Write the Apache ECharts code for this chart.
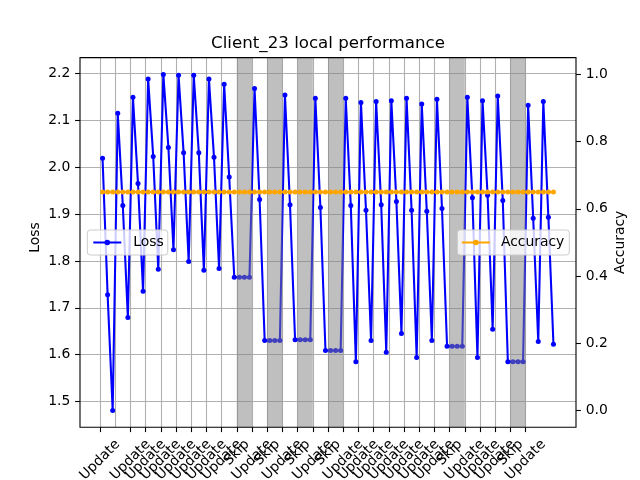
<!DOCTYPE html>
<html>
<head>
<meta charset="utf-8">
<title>Client_23 local performance</title>
<script src="https://cdn.jsdelivr.net/npm/echarts@6/dist/echarts.min.js"></script>
<style>
  html, body { margin: 0; padding: 0; background: #fff; }
  #chart { width: 640px; height: 480px; }
</style>
</head>
<body>
<div id="chart"></div>
<script>
// 每轮的状态（刻度 0..28，最后一轮没有刻度）
const tickLabels = [
  'Update', 'Update', 'Update', 'Update', 'Update', 'Update', 'Update', 'Update', 'Update',
  'Skip', 'Update', 'Skip', 'Update', 'Skip', 'Update', 'Skip',
  'Update', 'Update', 'Update', 'Update', 'Update', 'Update', 'Update',
  'Skip', 'Update', 'Update', 'Update', 'Skip', 'Update'
];
// 每轮 3 个点
const pointsPerRound = 3;
const lossValues = [
  2.019, 1.728, 1.481,  2.115, 1.918, 1.679,  2.149, 1.965, 1.735,
  2.188, 2.023, 1.782,  2.198, 2.042, 1.824,  2.196, 2.031, 1.799,
  2.196, 2.031, 1.780,  2.188, 2.021, 1.784,  2.177, 1.979, 1.765,
  1.765, 1.765, 1.765,  2.168, 1.931, 1.630,  1.630, 1.630, 1.630,
  2.154, 1.920, 1.632,  1.632, 1.632, 1.632,  2.147, 1.914, 1.609,
  1.609, 1.609, 1.609,  2.147, 1.918, 1.585,  2.138, 1.908, 1.630,
  2.140, 1.920, 1.605,  2.142, 1.927, 1.645,  2.147, 1.908, 1.594,
  2.135, 1.906, 1.630,  2.145, 1.912, 1.618,  1.618, 1.618, 1.618,
  2.149, 1.935, 1.594,  2.142, 1.940, 1.654,  2.152, 1.929, 1.585,
  1.585, 1.585, 1.585,  2.132, 1.891, 1.628,  2.140, 1.893, 1.622
];
const accuracyValues = [
  0.65, 0.65, 0.65,  0.65, 0.65, 0.65,  0.65, 0.65, 0.65,
  0.65, 0.65, 0.65,  0.65, 0.65, 0.65,  0.65, 0.65, 0.65,
  0.65, 0.65, 0.65,  0.65, 0.65, 0.65,  0.65, 0.65, 0.65,
  0.65, 0.65, 0.65,  0.65, 0.65, 0.65,  0.65, 0.65, 0.65,
  0.65, 0.65, 0.65,  0.65, 0.65, 0.65,  0.65, 0.65, 0.65,
  0.65, 0.65, 0.65,  0.65, 0.65, 0.65,  0.65, 0.65, 0.65,
  0.65, 0.65, 0.65,  0.65, 0.65, 0.65,  0.65, 0.65, 0.65,
  0.65, 0.65, 0.65,  0.65, 0.65, 0.65,  0.65, 0.65, 0.65,
  0.65, 0.65, 0.65,  0.65, 0.65, 0.65,  0.65, 0.65, 0.65,
  0.65, 0.65, 0.65,  0.65, 0.65, 0.65,  0.65, 0.65, 0.65
];
const lossTicks = [1.5, 1.6, 1.7, 1.8, 1.9, 2.0, 2.1, 2.2];
const accTicks = [0.0, 0.2, 0.4, 0.6, 0.8, 1.0];
const accRange = [-0.05, 1.05];

const FONT = 'DejaVu Sans';
const FS = 13.9;
const W = 640, H = 480;
// 绘图区（像素）
const PL = 80, PR = 576, PT = 57.6, PB = 427.2;

// 点的横坐标：轮次 + 轮内位置
const xs = lossValues.map((v, i) => Math.floor(i / pointsPerRound) + ((i % pointsPerRound) + 0.5) / pointsPerRound);
const lossData = lossValues.map((v, i) => [xs[i], v]);
const accData = accuracyValues.map((v, i) => [xs[i], v]);

// 5% 边距，和 matplotlib 一样
function padRange(lo, hi) {
  const m = (hi - lo) * 0.05;
  return [lo - m, hi + m];
}
const [xMin, xMax] = padRange(Math.min(...xs), Math.max(...xs));
const [lossMin, lossMax] = padRange(Math.min(...lossValues), Math.max(...lossValues));

function xPx(v) { return PL + (v - xMin) / (xMax - xMin) * (PR - PL); }
function yLossPx(v) { return PT + (lossMax - v) / (lossMax - lossMin) * (PB - PT); }
function yAccPx(v) { return PT + (accRange[1] - v) / (accRange[1] - accRange[0]) * (PB - PT); }

// Skip 轮的灰色区域
let bands = [];
tickLabels.forEach((s, r) => {
  if (s === 'Skip') bands.push([{ xAxis: r }, { xAxis: r + 1 }]);
});

const lastTick = tickLabels.length - 1;
const lossStep = Math.round((lossTicks[1] - lossTicks[0]) * 1e6) / 1e6;
const accStep = Math.round((accTicks[1] - accTicks[0]) * 1e6) / 1e6;

const tickStyle = { show: true, inside: false, length: 4.9, lineStyle: { color: '#000', width: 1.1 } };
const noLine = { show: false, onZero: false };
const labelBase = { color: '#000', fontFamily: FONT, fontSize: FS, hideOverlap: false, showMinLabel: true, showMaxLabel: true };
const gridBase = { containLabel: false, outerBoundsMode: 'none' };

const chart = echarts.init(document.getElementById('chart'), null, { renderer: 'canvas', width: W, height: H });

const option = {
  animation: false,
  backgroundColor: '#fff',
  title: {
    text: 'Client_23 local performance',
    left: (PL + PR) / 2,
    top: 35,
    textAlign: 'center',
    padding: 0,
    textStyle: { fontFamily: FONT, fontSize: 16.67, fontWeight: 'normal', color: '#000' }
  },
  legend: [
    {
      data: ['Loss'],
      left: 87.3,
      top: 230,
      padding: [5.5, 4, 5.5, 5],
      itemWidth: 28,
      itemHeight: 7,
      backgroundColor: 'rgba(255,255,255,0.8)',
      borderColor: '#cccccc',
      borderWidth: 1,
      borderRadius: 3,
      selectedMode: false,
      textStyle: { fontFamily: FONT, fontSize: FS, color: '#000', padding: [0, 0, 0, 7] }
    },
    {
      data: ['Accuracy'],
      right: W - 569.3,
      top: 230,
      padding: [5.5, 5, 5.5, 3.5],
      itemWidth: 28,
      itemHeight: 7,
      backgroundColor: 'rgba(255,255,255,0.8)',
      borderColor: '#cccccc',
      borderWidth: 1,
      borderRadius: 3,
      selectedMode: false,
      textStyle: { fontFamily: FONT, fontSize: FS, color: '#000', padding: [0, 0, 0, 6] }
    }
  ],
  grid: [
    // 0: 数据 + 边框
    Object.assign({ left: PL, top: PT, width: PR - PL, height: PB - PT, show: true, borderColor: '#000', borderWidth: 1.1, backgroundColor: 'transparent', z: 10 }, gridBase),
    // 1: 竖网格线和横轴标签
    Object.assign({ left: xPx(0), right: W - xPx(lastTick), top: PT, bottom: H - PB }, gridBase),
    // 2: 横网格线和 Loss 轴
    Object.assign({ left: PL, right: W - PR, top: yLossPx(lossTicks[lossTicks.length - 1]), bottom: H - yLossPx(lossTicks[0]) }, gridBase),
    // 3: Accuracy
    Object.assign({ left: PL, right: W - PR, top: yAccPx(accTicks[accTicks.length - 1]), bottom: H - yAccPx(accTicks[0]) }, gridBase)
  ],
  xAxis: [
    { type: 'value', gridIndex: 0, min: xMin, max: xMax, show: false, axisLine: noLine },
    {
      type: 'value', gridIndex: 1, position: 'bottom', min: 0, max: lastTick, interval: 1,
      axisLine: noLine,
      axisTick: tickStyle,
      splitLine: { show: true, lineStyle: { color: '#b0b0b0', width: 1.1 } },
      axisLabel: Object.assign({}, labelBase, {
        rotate: 45, align: 'center', verticalAlign: 'middle', margin: 32.8,
        formatter: v => tickLabels[Math.round(v)] === 'Update' ? 'Update' : ''
      })
    },
    {
      type: 'value', gridIndex: 1, position: 'bottom', min: 0, max: lastTick, interval: 1,
      axisLine: noLine,
      axisTick: { show: false },
      splitLine: { show: false },
      axisLabel: Object.assign({}, labelBase, {
        rotate: 45, align: 'center', verticalAlign: 'middle', margin: 25.5,
        formatter: v => tickLabels[Math.round(v)] === 'Skip' ? 'Skip' : ''
      })
    },
    { type: 'value', gridIndex: 2, min: 0, max: 1, show: false, axisLine: noLine },
    { type: 'value', gridIndex: 3, min: xMin, max: xMax, show: false, axisLine: noLine }
  ],
  yAxis: [
    { type: 'value', gridIndex: 0, min: lossMin, max: lossMax, show: false, axisLine: noLine },
    { type: 'value', gridIndex: 1, min: 0, max: 1, show: false, axisLine: noLine },
    {
      type: 'value', gridIndex: 2, position: 'left',
      min: lossTicks[0], max: lossTicks[lossTicks.length - 1], interval: lossStep,
      axisLine: noLine,
      axisTick: tickStyle,
      splitLine: { show: true, lineStyle: { color: '#b0b0b0', width: 1.1 } },
      axisLabel: Object.assign({}, labelBase, { margin: 9.7, formatter: v => v.toFixed(1) }),
      name: 'Loss', nameLocation: 'middle', nameGap: 38, nameRotate: 90, nameMoveOverlap: false,
      nameTextStyle: { fontFamily: FONT, fontSize: FS, color: '#000' }
    },
    {
      type: 'value', gridIndex: 3, position: 'right',
      min: accTicks[0], max: accTicks[accTicks.length - 1], interval: accStep,
      axisLine: noLine,
      axisTick: tickStyle,
      splitLine: { show: false },
      axisLabel: Object.assign({}, labelBase, { margin: 9.7, formatter: v => v.toFixed(1) }),
      name: 'Accuracy', nameLocation: 'middle', nameGap: 37, nameRotate: 90, nameMoveOverlap: false,
      nameTextStyle: { fontFamily: FONT, fontSize: FS, color: '#000' }
    }
  ],
  series: [
    {
      name: 'Loss', type: 'line', xAxisIndex: 0, yAxisIndex: 0, z: 2,
      data: lossData,
      symbol: 'circle', symbolSize: 5, showSymbol: true,
      lineStyle: { color: '#0000ff', width: 2.08 },
      itemStyle: { color: '#0000ff' },
      silent: true
    },
    {
      name: 'skipBands', type: 'line', xAxisIndex: 0, yAxisIndex: 0, z: 3,
      data: [],
      silent: true,
      markArea: {
        silent: true, z: 3,
        itemStyle: { color: 'rgba(128,128,128,0.5)' },
        data: bands
      }
    },
    {
      name: 'Accuracy', type: 'line', xAxisIndex: 4, yAxisIndex: 3, z: 4,
      data: accData,
      symbol: 'circle', symbolSize: 5, showSymbol: true,
      lineStyle: { color: '#ffa500', width: 2.08 },
      itemStyle: { color: '#ffa500' },
      silent: true
    }
  ]
};
chart.setOption(option);
</script>
</body>
</html>
